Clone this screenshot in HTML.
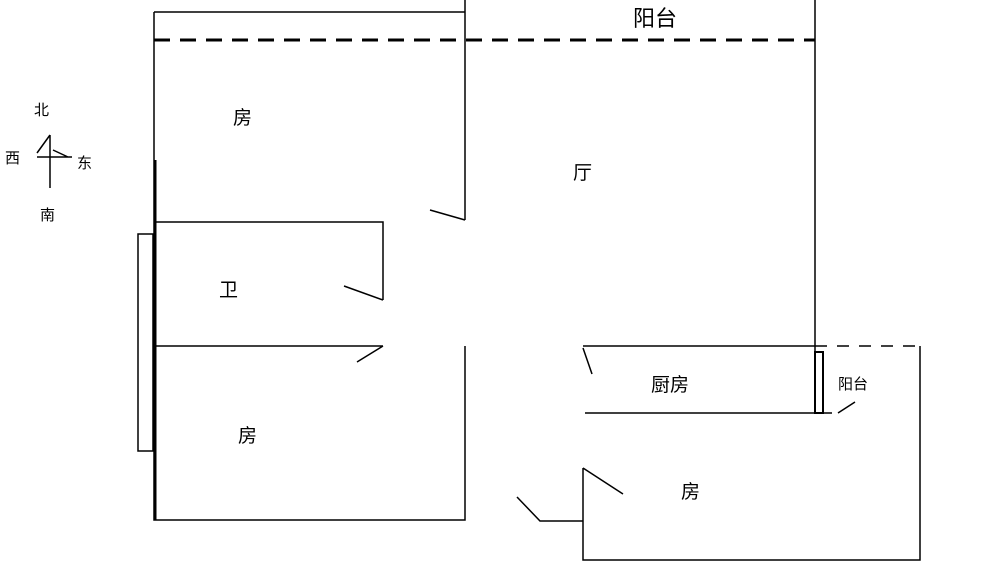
<!DOCTYPE html>
<html><head><meta charset="utf-8"><style>
body{margin:0;background:#fff;width:1000px;height:562px;overflow:hidden}
svg{display:block}
text{font-family:"Liberation Sans","Noto Sans CJK SC",sans-serif;fill:#000}
</style></head><body>
<svg width="1000" height="562" viewBox="0 0 1000 562">
<g stroke="#000" stroke-width="1.5" fill="none">
<path d="M154 12H465M465 0V220M815 0V412"/>
<path d="M154 40H815" stroke-width="3" stroke-dasharray="16 10"/>
<path d="M154 12V520H465V346M154 222H383V300M344 286L383 300M154 346H383M357 362L383 346M430 210L465 220"/>
<path d="M155 160V520" stroke-width="3"/>
<rect x="138" y="234" width="15" height="217"/>
<path d="M583 346H815M583 348L592 374M585 413H832M920 346V560H583V468M583 468L623 494M517 497L540 521H583M838 413L855 402"/>
<path d="M815 346H920" stroke-dasharray="12 10"/>
<rect x="815" y="352" width="8" height="61" stroke-width="2"/>
<path d="M50 135V188M37 157H72M37 153L50 135M53 150L68 157"/>
</g>
<text x="633" y="26" font-size="22">阳台</text>
<text x="233" y="124" font-size="19">房</text>
<text x="573" y="179" font-size="19">厅</text>
<text x="219" y="296" font-size="19">卫</text>
<text x="238" y="442" font-size="19">房</text>
<text x="651" y="391" font-size="19">厨房</text>
<text x="681" y="498" font-size="19">房</text>
<text x="838" y="389" font-size="15">阳台</text>
<text x="34" y="115" font-size="15">北</text>
<text x="5" y="163" font-size="15">西</text>
<text x="77" y="168" font-size="15">东</text>
<text x="40" y="220" font-size="15">南</text>
</svg>
</body></html>
